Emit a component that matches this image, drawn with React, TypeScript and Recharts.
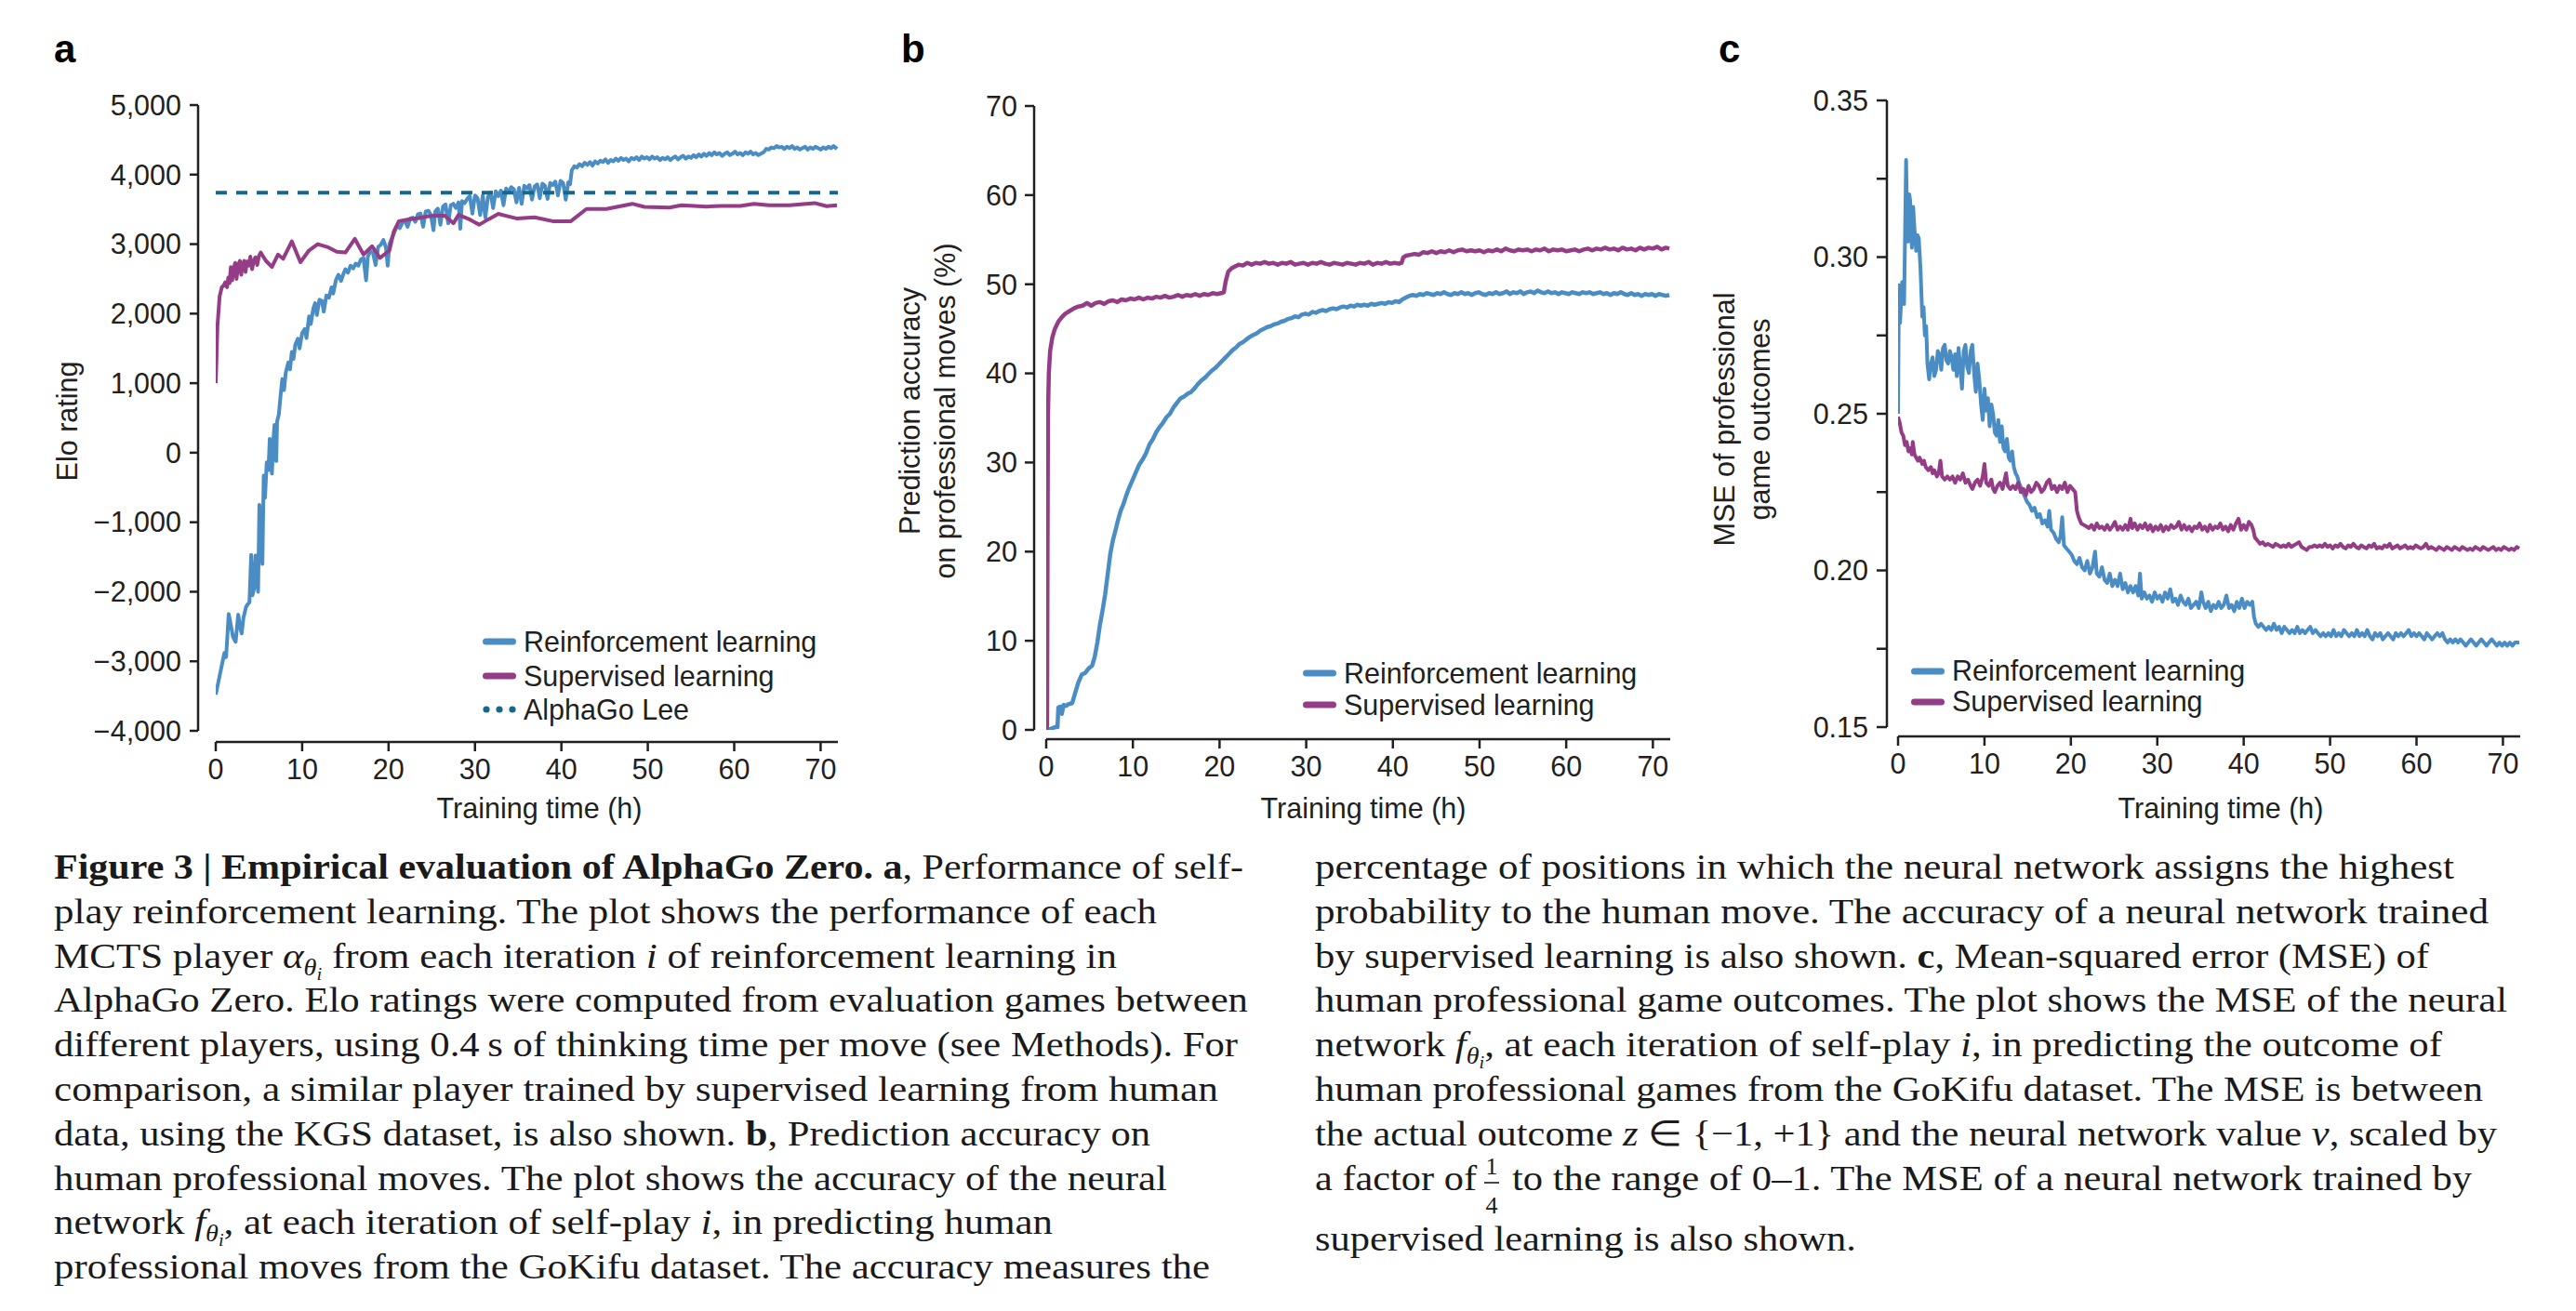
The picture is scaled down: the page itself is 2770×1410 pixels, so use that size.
import React from 'react';
import { LineChart, Line, XAxis, YAxis, Legend } from 'recharts';

// ---- axis ticks ----
const hourTicks = [0, 10, 20, 30, 40, 50, 60, 70];
const eloTicks = [-4000, -3000, -2000, -1000, 0, 1000, 2000, 3000, 4000, 5000];
const accuracyTicks = [0, 10, 20, 30, 40, 50, 60, 70];
const mseTicks = [0.15, 0.175, 0.2, 0.225, 0.25, 0.275, 0.3, 0.325, 0.35];

// ---- panel a: Elo rating, [hours, elo] ----
const alphaGoLeeElo = 3739;

const eloRl: [number, number][] = [
  [0, -3480], [0.5, -3180], [1, -2880], [1.2, -2940], [1.5, -2320], [1.7, -2450], [2, -2650], [2.3, -2720],
  [2.6, -2330], [2.8, -2500], [3, -2600], [3.2, -2380], [3.5, -2220], [3.7, -2180], [3.9, -2150], [4.1, -1470],
  [4.25, -2050], [4.45, -1950], [4.6, -1480], [4.75, -1520], [4.9, -2000], [5.05, -750], [5.2, -1250], [5.4, -1600],
  [5.55, -330], [5.7, -650], [5.9, -140], [6.1, -250], [6.25, 200], [6.5, -300], [6.65, 150], [6.8, 400],
  [7, -120], [7.1, 450], [7.3, 550], [7.5, 820], [7.7, 1060], [7.9, 900], [8.1, 1150], [8.4, 1300],
  [8.6, 1200], [8.8, 1450], [9, 1350], [9.2, 1550], [9.5, 1640], [9.7, 1500], [10, 1720], [10.3, 1780],
  [10.5, 1650], [10.8, 1960], [11, 1850], [11.3, 2080], [11.5, 2150], [11.7, 1980], [12, 2200], [12.3, 2180],
  [12.5, 2030], [12.8, 2260], [13.1, 2230], [13.4, 2380], [13.6, 2290], [13.9, 2480], [14.2, 2560], [14.5, 2470],
  [14.8, 2580], [15, 2640], [15.3, 2590], [15.6, 2690], [15.9, 2650], [16.2, 2720], [16.5, 2690], [16.8, 2780],
  [17.1, 2800], [17.4, 2480], [17.6, 2820], [17.9, 2900], [18.2, 2870], [18.5, 2700], [18.8, 2960], [19.1, 2990],
  [19.4, 3060], [19.7, 2950], [19.9, 2690], [20.1, 3000], [20.4, 3090], [20.7, 3180], [21, 3270], [21.3, 3230],
  [21.6, 3310], [21.9, 3340], [22.2, 3250], [22.5, 3370], [22.8, 3380], [23.1, 3320], [23.4, 3430], [23.7, 3440],
  [24, 3250], [24.3, 3470], [24.6, 3480], [24.9, 3420], [25.2, 3200], [25.4, 3470], [25.7, 3510], [26, 3280],
  [26.3, 3540], [26.6, 3570], [26.9, 3300], [27.2, 3560], [27.5, 3580], [27.8, 3520], [28.1, 3600], [28.3, 3220],
  [28.5, 3620], [28.8, 3590], [29.1, 3650], [29.4, 3690], [29.7, 3440], [30, 3700], [30.3, 3660], [30.6, 3420],
  [30.9, 3700], [31.2, 3380], [31.5, 3680], [31.8, 3740], [32.1, 3520], [32.4, 3760], [32.7, 3690], [33, 3770],
  [33.3, 3560], [33.6, 3800], [33.9, 3750], [34.2, 3820], [34.5, 3790], [34.8, 3600], [35.1, 3810], [35.4, 3580],
  [35.7, 3840], [36, 3800], [36.3, 3850], [36.6, 3640], [36.9, 3830], [37.2, 3860], [37.5, 3660], [37.8, 3870],
  [38.1, 3840], [38.4, 3650], [38.7, 3880], [39, 3850], [39.3, 3900], [39.6, 3700], [39.9, 3910], [40.2, 3880],
  [40.5, 3640], [40.8, 3890], [41, 3860], [41.2, 4060], [41.5, 4120], [41.8, 4100], [42.1, 4150], [42.4, 4120],
  [42.7, 4170], [43, 4140], [43.3, 4180], [43.6, 4130], [43.9, 4190], [44.2, 4160], [44.5, 4200], [44.8, 4180],
  [45.1, 4220], [45.4, 4170], [45.7, 4210], [46, 4190], [46.3, 4230], [46.6, 4200], [46.9, 4240], [47.2, 4210],
  [47.5, 4230], [47.8, 4190], [48.1, 4240], [48.4, 4220], [48.7, 4250], [49, 4210], [49.3, 4260], [49.6, 4230],
  [49.9, 4250], [50.2, 4220], [50.5, 4260], [50.8, 4230], [51.1, 4250], [51.4, 4210], [51.7, 4240], [52, 4220],
  [52.3, 4250], [52.6, 4210], [52.9, 4240], [53.2, 4260], [53.5, 4220], [53.8, 4250], [54.1, 4270], [54.4, 4230],
  [54.7, 4260], [55, 4240], [55.3, 4280], [55.6, 4250], [55.9, 4290], [56.2, 4260], [56.5, 4300], [56.8, 4270],
  [57.1, 4310], [57.4, 4280], [57.7, 4320], [58, 4290], [58.3, 4310], [58.6, 4270], [58.9, 4300], [59.2, 4320],
  [59.5, 4280], [59.8, 4300], [60.1, 4330], [60.4, 4290], [60.7, 4310], [61, 4280], [61.3, 4320], [61.6, 4300],
  [61.9, 4330], [62.2, 4290], [62.5, 4310], [62.8, 4280], [63.1, 4300], [63.4, 4320], [63.7, 4370], [64, 4360],
  [64.3, 4390], [64.6, 4380], [64.9, 4410], [65.2, 4390], [65.5, 4400], [65.8, 4370], [66.1, 4400], [66.4, 4380],
  [66.7, 4410], [67, 4370], [67.3, 4390], [67.6, 4360], [67.9, 4380], [68.2, 4400], [68.5, 4360], [68.8, 4390],
  [69.1, 4370], [69.4, 4400], [69.7, 4380], [70, 4360], [70.3, 4390], [70.6, 4370], [70.9, 4400], [71.2, 4380],
  [71.5, 4410], [71.9, 4370],
];

const eloSl: [number, number][] = [
  [0, 1000], [0.2, 1830], [0.45, 2250], [0.7, 2380], [0.9, 2400], [1.1, 2450], [1.3, 2380], [1.45, 2520],
  [1.6, 2440], [1.75, 2670], [1.9, 2480], [2.1, 2660], [2.25, 2730], [2.4, 2500], [2.6, 2700], [2.8, 2760],
  [2.95, 2560], [3.1, 2700], [3.3, 2760], [3.45, 2600], [3.6, 2750], [3.8, 2690], [4, 2820], [4.2, 2640],
  [4.4, 2760], [4.6, 2810], [4.8, 2700], [5, 2830], [5.2, 2880], [5.8, 2760], [6.5, 2670], [7.2, 2850],
  [7.8, 2790], [8.8, 3040], [9.8, 2740], [10.8, 2910], [11.8, 3000], [12.9, 2960], [14, 2890], [15, 2880],
  [16.1, 3075], [17.1, 2850], [18.1, 2970], [19, 2800], [20.1, 2910], [20.6, 3180], [21.2, 3330], [22.3, 3355],
  [23.5, 3375], [24.5, 3400], [25.4, 3410], [26.5, 3410], [27.5, 3300], [28.1, 3420], [29.3, 3360], [30.5, 3280],
  [31.6, 3360], [32.7, 3435], [33.8, 3400], [34.8, 3370], [36.9, 3385], [39, 3330], [41.1, 3330], [42.9, 3505],
  [45.2, 3505], [48.2, 3580], [49.6, 3535], [52.5, 3525], [53.9, 3560], [56.8, 3540], [58.5, 3550], [60.7, 3550],
  [62.3, 3580], [64, 3560], [66.4, 3560], [69.3, 3590], [70.7, 3545], [71.9, 3560],
];

// ---- panel b: prediction accuracy (%), [hours, %] ----
const accRl: [number, number][] = [
  [0, 0], [0.5, 0.1], [1, 0.3], [1.3, 0.3], [1.4, 2.5], [1.6, 2.6], [1.8, 1.8], [2, 2.8], [2.3, 2.7], [2.6, 2.9],
  [3, 3], [3.3, 4], [3.7, 5.3], [4.1, 6.2], [4.5, 6.4], [4.9, 6.9], [5.3, 7.2], [5.6, 8.2], [5.9, 9.8], [6.2, 11.8],
  [6.5, 13.4], [6.8, 15.2], [7.1, 17.5], [7.4, 19.8], [7.7, 21.3], [8, 22.4], [8.3, 23.6], [8.6, 24.6], [8.9, 25.3],
  [9.2, 26.2], [9.5, 27], [9.9, 27.9], [10.3, 28.8], [10.7, 29.7], [11.1, 30.3], [11.5, 31], [11.9, 32], [12.3, 32.6],
  [12.7, 33.4], [13.1, 34], [13.5, 34.5], [13.9, 35.1], [14.3, 35.5], [14.7, 36.2], [15.1, 36.7], [15.5, 37.2],
  [15.9, 37.4], [16.3, 37.7], [16.7, 37.9], [17.1, 38.3], [17.5, 38.8], [17.9, 39.2], [18.3, 39.5], [18.7, 39.9],
  [19.1, 40.3], [19.5, 40.6], [19.9, 41], [20.3, 41.4], [20.7, 41.8], [21.1, 42.2], [21.5, 42.6], [21.9, 42.9],
  [22.3, 43.3], [22.7, 43.5], [23.1, 43.8], [23.5, 44.1], [23.9, 44.3], [24.3, 44.5], [24.7, 44.8], [25.1, 45],
  [25.5, 45.2], [25.9, 45.3], [26.3, 45.5], [26.7, 45.6], [27.1, 45.8], [27.5, 45.9], [27.9, 46.1], [28.3, 46.2],
  [28.7, 46.4], [29.1, 46.3], [29.5, 46.6], [29.9, 46.7], [30.3, 46.6], [30.7, 46.9], [31.1, 46.8], [31.5, 47],
  [31.9, 47.1], [32.3, 47], [32.7, 47.2], [33.1, 47.3], [33.5, 47.2], [33.9, 47.4], [34.3, 47.5], [34.7, 47.4],
  [35.1, 47.6], [35.5, 47.5], [35.9, 47.7], [36.3, 47.6], [36.7, 47.7], [37.1, 47.6], [37.5, 47.8], [37.9, 47.7],
  [38.3, 47.8], [38.7, 47.9], [39.1, 47.8], [39.5, 48], [39.9, 47.9], [40.3, 48.1], [40.7, 48], [41.1, 48.3],
  [41.5, 48.5], [41.9, 48.7], [42.3, 48.8], [42.7, 48.7], [43.1, 48.9], [43.5, 48.8], [43.9, 49], [44.3, 48.9],
  [44.7, 48.8], [45.1, 49], [45.5, 48.9], [45.9, 49.1], [46.3, 48.9], [46.7, 48.8], [47.1, 49], [47.5, 48.9],
  [47.9, 49.1], [48.3, 48.9], [48.7, 49], [49.1, 48.8], [49.5, 49], [49.9, 49.1], [50.3, 48.9], [50.7, 48.8],
  [51.1, 49], [51.5, 48.9], [51.9, 49.1], [52.3, 48.9], [52.7, 49], [53.1, 49.2], [53.5, 48.9], [53.9, 49.1],
  [54.3, 49], [54.7, 49.2], [55.1, 48.9], [55.5, 49.1], [55.9, 49.2], [56.3, 49], [56.7, 49.3], [57.1, 49.1],
  [57.5, 49], [57.9, 49.2], [58.3, 49], [58.7, 49.1], [59.1, 48.9], [59.5, 49.1], [59.9, 49], [60.3, 48.9],
  [60.7, 49.1], [61.1, 49], [61.5, 48.9], [61.9, 49.1], [62.3, 49], [62.7, 49.1], [63.1, 48.9], [63.5, 49],
  [63.9, 49.1], [64.3, 48.9], [64.7, 49], [65.1, 48.8], [65.5, 49], [65.9, 48.9], [66.3, 49.1], [66.7, 48.9],
  [67.1, 48.8], [67.5, 49], [67.9, 48.8], [68.3, 48.9], [68.7, 48.7], [69.1, 48.9], [69.5, 48.8], [69.9, 48.9],
  [70.3, 48.7], [70.7, 48.9], [71.1, 48.8], [71.5, 48.7], [71.9, 48.8],
];

const accSl: [number, number][] = [
  [0, 0], [0.1, 0.5], [0.15, 20], [0.2, 35], [0.3, 40], [0.45, 42.5], [0.7, 44], [1, 45], [1.4, 45.8], [1.8, 46.3],
  [2.2, 46.7], [2.7, 47], [3.2, 47.3], [3.7, 47.5], [4.2, 47.6], [4.7, 47.9], [5.2, 47.6], [5.7, 47.9], [6.2, 48],
  [6.7, 47.8], [7.2, 48.1], [7.7, 48.2], [8.2, 48], [8.7, 48.3], [9.2, 48.2], [9.7, 48.4], [10.2, 48.3], [10.7, 48.5],
  [11.2, 48.3], [11.7, 48.5], [12.2, 48.4], [12.7, 48.6], [13.2, 48.5], [13.7, 48.7], [14.2, 48.5], [14.7, 48.6],
  [15.2, 48.8], [15.7, 48.6], [16.2, 48.8], [16.7, 48.7], [17.2, 48.9], [17.7, 48.7], [18.2, 48.9], [18.7, 48.8],
  [19.2, 49], [19.7, 48.9], [20.2, 49], [20.5, 49.1], [20.7, 50.3], [21, 51.4], [21.4, 51.8], [21.8, 52], [22.2, 52.2],
  [22.7, 52.1], [23.2, 52.4], [23.7, 52.2], [24.2, 52.4], [24.7, 52.3], [25.2, 52.5], [25.7, 52.3], [26.2, 52.4],
  [26.7, 52.2], [27.2, 52.4], [27.7, 52.3], [28.2, 52.5], [28.7, 52.2], [29.2, 52.3], [29.7, 52.4], [30.2, 52.2],
  [30.7, 52.4], [31.2, 52.3], [31.7, 52.5], [32.2, 52.3], [32.7, 52.2], [33.2, 52.4], [33.7, 52.3], [34.2, 52.2],
  [34.7, 52.4], [35.2, 52.3], [35.7, 52.2], [36.2, 52.4], [36.7, 52.3], [37.2, 52.5], [37.7, 52.2], [38.2, 52.4],
  [38.7, 52.3], [39.2, 52.5], [39.7, 52.3], [40.2, 52.4], [40.7, 52.3], [41, 52.4], [41.2, 53], [41.5, 53.2],
  [42, 53.3], [42.5, 53.4], [43, 53.3], [43.5, 53.6], [44, 53.5], [44.5, 53.7], [45, 53.5], [45.5, 53.7], [46, 53.6],
  [46.5, 53.8], [47, 53.6], [47.5, 53.8], [48, 53.9], [48.5, 53.7], [49, 53.8], [49.5, 53.7], [50, 53.8], [50.5, 53.6],
  [51, 53.8], [51.5, 53.7], [52, 53.9], [52.5, 53.7], [53, 54], [53.5, 53.8], [54, 53.7], [54.5, 53.9], [55, 53.8],
  [55.5, 53.9], [56, 53.7], [56.5, 53.9], [57, 53.8], [57.5, 54], [58, 53.7], [58.5, 53.9], [59, 53.8], [59.5, 53.9],
  [60, 53.7], [60.5, 53.8], [61, 53.9], [61.5, 53.7], [62, 53.9], [62.5, 54], [63, 53.8], [63.5, 54], [64, 53.9],
  [64.5, 54.1], [65, 53.9], [65.5, 54], [66, 53.8], [66.5, 54.1], [67, 53.9], [67.5, 54], [68, 53.8], [68.5, 54.1],
  [69, 53.9], [69.5, 54.1], [70, 54], [70.5, 54.2], [71, 53.9], [71.5, 54.1], [71.9, 54],
];

// ---- panel c: MSE of game outcomes, [hours, mse] ----
const mseRl: [number, number][] = [
  [0, 0.25], [0.1, 0.291], [0.23, 0.279], [0.47, 0.292], [0.7, 0.285], [0.93, 0.331], [1.05, 0.312], [1.17, 0.305],
  [1.3, 0.32], [1.4, 0.318], [1.6, 0.303], [1.75, 0.316], [1.9, 0.309], [2.1, 0.302], [2.25, 0.307], [2.4, 0.306],
  [2.6, 0.296], [2.8, 0.281], [2.95, 0.284], [3.1, 0.275], [3.25, 0.278], [3.4, 0.266], [3.6, 0.261], [3.8, 0.266],
  [4, 0.268], [4.2, 0.262], [4.4, 0.264], [4.6, 0.27], [4.8, 0.269], [5, 0.264], [5.2, 0.271], [5.4, 0.272],
  [5.6, 0.267], [5.8, 0.266], [6, 0.27], [6.2, 0.268], [6.4, 0.264], [6.6, 0.269], [6.8, 0.262], [7, 0.271],
  [7.2, 0.265], [7.4, 0.258], [7.6, 0.27], [7.8, 0.272], [8, 0.265], [8.2, 0.263], [8.4, 0.27], [8.6, 0.272],
  [8.8, 0.263], [9, 0.257], [9.2, 0.266], [9.4, 0.261], [9.6, 0.253], [9.8, 0.248], [10, 0.258], [10.2, 0.251],
  [10.4, 0.255], [10.6, 0.246], [10.8, 0.253], [11, 0.25], [11.2, 0.244], [11.4, 0.243], [11.6, 0.248], [11.8, 0.241],
  [12, 0.246], [12.2, 0.239], [12.4, 0.238], [12.6, 0.242], [12.8, 0.236], [13, 0.235], [13.2, 0.238], [13.4, 0.233],
  [13.6, 0.231], [13.8, 0.23], [14, 0.228], [14.3, 0.226], [14.6, 0.224], [14.9, 0.222], [15.2, 0.221], [15.5, 0.219],
  [15.8, 0.22], [16.1, 0.217], [16.4, 0.218], [16.7, 0.215], [17, 0.216], [17.3, 0.214], [17.5, 0.219], [17.7, 0.213],
  [18, 0.212], [18.3, 0.21], [18.6, 0.209], [18.8, 0.211], [19, 0.217], [19.2, 0.208], [19.5, 0.207], [19.8, 0.206],
  [20.1, 0.205], [20.4, 0.203], [20.7, 0.202], [21, 0.204], [21.3, 0.201], [21.6, 0.2], [21.9, 0.203], [22.2, 0.199],
  [22.5, 0.201], [22.8, 0.206], [23, 0.199], [23.3, 0.198], [23.6, 0.201], [23.9, 0.197], [24.2, 0.196], [24.5, 0.199],
  [24.8, 0.195], [25.1, 0.197], [25.4, 0.195], [25.7, 0.199], [26, 0.194], [26.3, 0.196], [26.6, 0.193], [26.9, 0.195],
  [27.2, 0.193], [27.5, 0.195], [27.8, 0.192], [28, 0.199], [28.2, 0.191], [28.5, 0.193], [28.8, 0.191], [29.1, 0.192],
  [29.4, 0.19], [29.7, 0.193], [30, 0.191], [30.3, 0.192], [30.6, 0.19], [30.9, 0.193], [31.2, 0.191], [31.5, 0.194],
  [31.8, 0.19], [32.1, 0.191], [32.4, 0.189], [32.7, 0.192], [33, 0.19], [33.3, 0.189], [33.6, 0.191], [33.9, 0.188],
  [34.2, 0.189], [34.5, 0.19], [34.8, 0.188], [35.1, 0.193], [35.3, 0.19], [35.6, 0.188], [35.9, 0.19], [36.2, 0.187],
  [36.5, 0.189], [36.8, 0.188], [37.1, 0.19], [37.4, 0.188], [37.7, 0.189], [38, 0.192], [38.3, 0.188], [38.6, 0.189],
  [38.9, 0.187], [39.2, 0.19], [39.5, 0.188], [39.8, 0.191], [40.1, 0.188], [40.4, 0.19], [40.7, 0.189], [41, 0.19],
  [41.2, 0.185], [41.4, 0.183], [41.7, 0.182], [42, 0.183], [42.3, 0.182], [42.6, 0.181], [42.9, 0.182], [43.2, 0.181],
  [43.5, 0.183], [43.8, 0.181], [44.1, 0.182], [44.4, 0.18], [44.7, 0.182], [45, 0.181], [45.3, 0.18], [45.6, 0.181],
  [45.9, 0.18], [46.2, 0.182], [46.5, 0.18], [46.8, 0.181], [47.1, 0.18], [47.4, 0.181], [47.7, 0.182], [48, 0.18],
  [48.3, 0.181], [48.6, 0.18], [48.9, 0.179], [49.2, 0.18], [49.5, 0.179], [49.8, 0.18], [50.1, 0.179], [50.4, 0.181],
  [50.7, 0.179], [51, 0.18], [51.3, 0.179], [51.6, 0.181], [51.9, 0.18], [52.2, 0.179], [52.5, 0.18], [52.8, 0.179],
  [53.1, 0.181], [53.4, 0.179], [53.7, 0.18], [54, 0.179], [54.3, 0.181], [54.6, 0.179], [54.9, 0.178], [55.2, 0.18],
  [55.5, 0.179], [55.8, 0.18], [56.1, 0.178], [56.4, 0.179], [56.7, 0.18], [57, 0.179], [57.3, 0.178], [57.6, 0.18],
  [57.9, 0.179], [58.2, 0.18], [58.5, 0.179], [58.8, 0.18], [59.1, 0.181], [59.4, 0.179], [59.7, 0.18], [60, 0.179],
  [60.3, 0.18], [60.6, 0.179], [60.9, 0.178], [61.2, 0.18], [61.5, 0.179], [61.8, 0.178], [62.1, 0.179], [62.4, 0.18],
  [62.7, 0.179], [63, 0.18], [63.3, 0.178], [63.6, 0.177], [63.9, 0.178], [64.2, 0.177], [64.5, 0.178], [64.8, 0.177],
  [65.1, 0.178], [65.4, 0.177], [65.7, 0.176], [66, 0.177], [66.3, 0.178], [66.6, 0.177], [66.9, 0.176], [67.2, 0.177],
  [67.5, 0.178], [67.8, 0.177], [68.1, 0.176], [68.4, 0.177], [68.7, 0.178], [69, 0.177], [69.3, 0.176], [69.6, 0.177],
  [69.9, 0.176], [70.2, 0.177], [70.5, 0.176], [70.8, 0.177], [71.1, 0.176], [71.4, 0.177], [71.9, 0.177],
];

const mseSl: [number, number][] = [
  [0, 0.249], [0.2, 0.247], [0.4, 0.244], [0.6, 0.243], [0.8, 0.24], [1, 0.241], [1.2, 0.238], [1.4, 0.239],
  [1.6, 0.237], [1.7, 0.241], [1.9, 0.237], [2.1, 0.236], [2.3, 0.235], [2.5, 0.236], [2.8, 0.234], [3, 0.235],
  [3.2, 0.233], [3.5, 0.232], [3.8, 0.233], [4, 0.231], [4.2, 0.232], [4.5, 0.23], [4.7, 0.231], [4.9, 0.235],
  [5.1, 0.23], [5.4, 0.229], [5.7, 0.23], [6, 0.229], [6.3, 0.23], [6.6, 0.228], [6.9, 0.23], [7.2, 0.229],
  [7.5, 0.231], [7.8, 0.228], [8.1, 0.229], [8.4, 0.227], [8.6, 0.226], [8.9, 0.228], [9.2, 0.229], [9.5, 0.227],
  [9.8, 0.23], [10, 0.234], [10.2, 0.228], [10.5, 0.227], [10.8, 0.229], [11, 0.226], [11.2, 0.225], [11.5, 0.227],
  [11.8, 0.228], [12.1, 0.226], [12.5, 0.231], [12.7, 0.227], [13, 0.226], [13.3, 0.227], [13.6, 0.226], [13.9, 0.228],
  [14.2, 0.225], [14.5, 0.226], [14.8, 0.224], [15.1, 0.227], [15.4, 0.225], [15.7, 0.226], [16, 0.228], [16.3, 0.227],
  [16.6, 0.225], [16.9, 0.226], [17.2, 0.228], [17.5, 0.229], [17.8, 0.226], [18.1, 0.227], [18.4, 0.225], [18.7, 0.227],
  [19, 0.226], [19.3, 0.228], [19.6, 0.225], [19.9, 0.227], [20.2, 0.226], [20.5, 0.225], [20.7, 0.219], [20.9, 0.217],
  [21.2, 0.215], [21.5, 0.2145], [21.8, 0.214], [22.1, 0.2135], [22.4, 0.2145], [22.7, 0.213], [23, 0.215], [23.3, 0.2135],
  [23.6, 0.214], [23.9, 0.213], [24.2, 0.2145], [24.5, 0.213], [24.8, 0.214], [25.1, 0.2155], [25.4, 0.213], [25.7, 0.214],
  [26, 0.213], [26.3, 0.2145], [26.6, 0.213], [26.9, 0.2165], [27.1, 0.2135], [27.4, 0.215], [27.7, 0.213], [28, 0.2145],
  [28.3, 0.2135], [28.6, 0.215], [28.9, 0.213], [29.2, 0.2145], [29.5, 0.2125], [29.8, 0.214], [30.1, 0.213], [30.4, 0.2145],
  [30.7, 0.2125], [31, 0.214], [31.3, 0.213], [31.6, 0.2145], [31.9, 0.2135], [32.2, 0.214], [32.5, 0.2155], [32.8, 0.213],
  [33.1, 0.2145], [33.4, 0.213], [33.7, 0.214], [34, 0.2125], [34.3, 0.214], [34.6, 0.2135], [34.9, 0.215], [35.2, 0.213],
  [35.5, 0.214], [35.8, 0.2125], [36.1, 0.2145], [36.4, 0.213], [36.7, 0.214], [37, 0.2135], [37.3, 0.215], [37.6, 0.213],
  [37.9, 0.214], [38.2, 0.2125], [38.5, 0.2145], [38.8, 0.213], [39.1, 0.215], [39.4, 0.2165], [39.7, 0.213], [40, 0.2145],
  [40.3, 0.213], [40.6, 0.2155], [40.9, 0.2145], [41.1, 0.213], [41.3, 0.2105], [41.6, 0.2095], [41.9, 0.2085], [42.2, 0.209],
  [42.5, 0.208], [42.8, 0.2085], [43.1, 0.208], [43.4, 0.2075], [43.7, 0.2085], [44, 0.208], [44.3, 0.2075], [44.6, 0.208],
  [44.9, 0.2075], [45.2, 0.2085], [45.5, 0.2075], [45.8, 0.208], [46.1, 0.2085], [46.4, 0.209], [46.7, 0.2075], [47, 0.207],
  [47.3, 0.2065], [47.6, 0.2075], [47.9, 0.2075], [48.2, 0.208], [48.5, 0.2075], [48.8, 0.208], [49.1, 0.2075], [49.4, 0.2085],
  [49.7, 0.2075], [50, 0.208], [50.3, 0.207], [50.6, 0.208], [50.9, 0.2075], [51.2, 0.2085], [51.5, 0.2075], [51.8, 0.207],
  [52.1, 0.208], [52.4, 0.2075], [52.7, 0.2085], [53, 0.2075], [53.3, 0.207], [53.6, 0.208], [53.9, 0.2075], [54.2, 0.207],
  [54.5, 0.208], [54.8, 0.2075], [55.1, 0.2085], [55.4, 0.207], [55.7, 0.2075], [56, 0.207], [56.3, 0.208], [56.6, 0.2075],
  [56.9, 0.2085], [57.2, 0.207], [57.5, 0.2075], [57.8, 0.208], [58.1, 0.207], [58.4, 0.2075], [58.7, 0.208], [59, 0.207],
  [59.3, 0.2075], [59.6, 0.207], [59.9, 0.208], [60.2, 0.2075], [60.5, 0.207], [60.8, 0.2075], [61.1, 0.2085], [61.4, 0.207],
  [61.7, 0.2075], [62, 0.207], [62.3, 0.2065], [62.6, 0.2075], [62.9, 0.207], [63.2, 0.2065], [63.5, 0.2075], [63.8, 0.207],
  [64.1, 0.2065], [64.4, 0.2075], [64.7, 0.207], [65, 0.2065], [65.3, 0.2075], [65.6, 0.207], [65.9, 0.2065], [66.2, 0.207],
  [66.5, 0.2065], [66.8, 0.2075], [67.1, 0.207], [67.4, 0.2065], [67.7, 0.2075], [68, 0.207], [68.3, 0.2065], [68.6, 0.207],
  [68.9, 0.2075], [69.2, 0.2065], [69.5, 0.207], [69.8, 0.2065], [70.1, 0.2075], [70.4, 0.207], [70.7, 0.2065], [71, 0.207],
  [71.3, 0.2065], [71.6, 0.2075], [71.9, 0.207],
];

// ---- styling ----
const SANS = '"Liberation Sans", Arial, Helvetica, sans-serif';
const SERIF = '"Liberation Serif", "Times New Roman", serif';
const INK = '#231f20';
const BLUE = '#4a8dc5';
const PURPLE = '#953c86';
const TEAL = '#17678c';
const FS = 30.5;

const toPoints = (rows: [number, number][]) => rows.map(([t, v]) => ({ t, v }));

const fmtElo = (v: number) => (v < 0 ? '\u2212' : '') + Math.abs(v).toLocaleString('en-US');
const fmtPlain = (v: number) => String(v);
const fmtMse = (v: number) => (Math.round(v * 1000) % 50 === 0 ? v.toFixed(2) : '');

const legendOrder = ['Reinforcement learning', 'Supervised learning', 'AlphaGo Lee'];

type SeriesDef = {
  name: string;
  data: { t: number; v: number }[];
  color: string;
  width: number;
  dash?: string;
  dots?: boolean;
};

function makeLegend(row: number) {
  return (props: any) => {
    const items = [...(props.payload || [])].sort(
      (a: any, b: any) => legendOrder.indexOf(a.value) - legendOrder.indexOf(b.value),
    );
    return (
      <div>
        {items.map((item: any) => (
          <div key={item.value} style={{ display: 'flex', alignItems: 'center', height: row }}>
            <svg width={36} height={12} style={{ marginRight: 8, flex: 'none' }}>
              {item.type === 'circle' ? (
                [4, 18, 32].map((cx) => <circle key={cx} cx={cx} cy={6} r={3.6} fill={item.color} />)
              ) : (
                <line x1={3.5} y1={6} x2={32.5} y2={6} stroke={item.color} strokeWidth={7} strokeLinecap="round" />
              )}
            </svg>
            <span style={{ fontSize: FS, color: INK, lineHeight: `${row}px`, whiteSpace: 'nowrap' }}>{item.value}</span>
          </div>
        ))}
      </div>
    );
  };
}

type PanelProps = {
  left: number;
  top: number;
  width: number;
  height: number;
  yWidth: number;
  gapLeft: number;
  gapBottom: number;
  yDomain: [number, number];
  yTicks: number[];
  yFormat: (v: number) => string;
  yTickSize: number;
  yTickMargin: number;
  series: SeriesDef[];
  legendLeft: number;
  legendTop: number;
  legendRow: number;
};

function Panel(p: PanelProps) {
  const axisStroke = { stroke: INK, strokeWidth: 2.5 };
  const tickStyle = { fill: INK, fontSize: FS, fontFamily: SANS };
  return (
    <div style={{ position: 'absolute', left: p.left, top: p.top }}>
      <LineChart width={p.width} height={p.height} margin={{ top: 20, right: 12, bottom: 0, left: 0 }}>
        {/* spacer axes give the detached spines */}
        <XAxis xAxisId="gap" type="number" domain={[0, 1]} height={p.gapBottom} axisLine={false} tickLine={false} tick={false} />
        <XAxis
          xAxisId="t"
          type="number"
          dataKey="t"
          domain={[0, 72]}
          ticks={hourTicks}
          interval={0}
          allowDataOverflow
          height={50}
          axisLine={axisStroke}
          tickLine={axisStroke}
          tickSize={10}
          tickMargin={8}
          tick={tickStyle}
        />
        <YAxis yAxisId="gap" type="number" domain={[0, 1]} width={p.gapLeft} axisLine={false} tickLine={false} tick={false} />
        <YAxis
          yAxisId="v"
          type="number"
          domain={p.yDomain}
          ticks={p.yTicks}
          interval={0}
          allowDataOverflow
          width={p.yWidth}
          axisLine={axisStroke}
          tickLine={axisStroke}
          tickSize={p.yTickSize}
          tickMargin={p.yTickMargin}
          tick={tickStyle}
          tickFormatter={p.yFormat}
        />
        {p.series.map((s) => (
          <Line
            key={s.name}
            name={s.name}
            data={s.data}
            dataKey="v"
            xAxisId="t"
            yAxisId="v"
            type="linear"
            stroke={s.color}
            strokeWidth={s.width}
            strokeDasharray={s.dash}
            strokeLinejoin="round"
            dot={false}
            activeDot={false}
            legendType={s.dots ? 'circle' : 'line'}
            isAnimationActive={false}
          />
        ))}
        <Legend
          layout="horizontal"
          verticalAlign="middle"
          align="center"
          content={makeLegend(p.legendRow)}
          wrapperStyle={{ left: p.legendLeft, top: p.legendTop, width: 'auto' }}
        />
      </LineChart>
    </div>
  );
}

const capL = 58;
const capR = 1414;
const capY = (i: number) => 945 + 47.8 * i;

function CapLine({ x, y, w, children }: { x: number; y: number; w: number; children: React.ReactNode }) {
  return (
    <text x={x} y={y} textLength={w} lengthAdjust="spacingAndGlyphs">
      {children}
    </text>
  );
}

function Sub({ base }: { base: string }) {
  return (
    <>
      <tspan fontStyle="italic">{base}</tspan>
      <tspan fontStyle="italic" fontSize={25} dy={8}>θ</tspan>
      <tspan fontStyle="italic" fontSize={18} dy={5}>i</tspan>
    </>
  );
}

export default function App() {
  const eloSeries: SeriesDef[] = [
    { name: 'Reinforcement learning', data: toPoints(eloRl), color: BLUE, width: 4 },
    { name: 'Supervised learning', data: toPoints(eloSl), color: PURPLE, width: 4 },
    {
      name: 'AlphaGo Lee',
      data: [{ t: 0, v: alphaGoLeeElo }, { t: 72, v: alphaGoLeeElo }],
      color: TEAL,
      width: 4,
      dash: '12 10',
      dots: true,
    },
  ];
  const accSeries: SeriesDef[] = [
    { name: 'Reinforcement learning', data: toPoints(accRl), color: BLUE, width: 4.5 },
    { name: 'Supervised learning', data: toPoints(accSl), color: PURPLE, width: 4.5 },
  ];
  const mseSeries: SeriesDef[] = [
    { name: 'Reinforcement learning', data: toPoints(mseRl), color: BLUE, width: 4 },
    { name: 'Supervised learning', data: toPoints(mseSl), color: PURPLE, width: 4 },
  ];

  return (
    <div
      style={{
        position: 'absolute',
        left: 0,
        top: 0,
        width: 2770,
        height: 1410,
        background: '#fff',
        fontFamily: SANS,
        color: INK,
        overflow: 'hidden',
      }}
    >
      <Panel
        left={83} top={93} width={830} height={755}
        yWidth={130} gapLeft={19} gapBottom={12}
        yDomain={[-4000, 5000]} yTicks={eloTicks} yFormat={fmtElo}
        yTickSize={9} yTickMargin={9}
        series={eloSeries}
        legendLeft={436} legendTop={579} legendRow={36.5}
      />
      <Panel
        left={1012} top={94} width={796} height={751}
        yWidth={100} gapLeft={13} gapBottom={10}
        yDomain={[0, 70]} yTicks={accuracyTicks} yFormat={fmtPlain}
        yTickSize={10} yTickMargin={8}
        series={accSeries}
        legendLeft={389} legendTop={613} legendRow={34}
      />
      <Panel
        left={1919} top={88} width={803} height={754}
        yWidth={110} gapLeft={12} gapBottom={10}
        yDomain={[0.15, 0.35]} yTicks={mseTicks} yFormat={fmtMse}
        yTickSize={11} yTickMargin={9}
        series={mseSeries}
        legendLeft={136} legendTop={617} legendRow={33}
      />

      <svg
        width={2770}
        height={1410}
        style={{ position: 'absolute', left: 0, top: 0, pointerEvents: 'none' }}
      >
        {/* panel letters */}
        <g fontFamily={SANS} fontWeight="bold" fontSize={42} fill="#000">
          <text x={58} y={67}>a</text>
          <text x={969} y={67}>b</text>
          <text x={1848} y={67}>c</text>
        </g>

        {/* axis titles */}
        <g fontFamily={SANS} fontSize={FS} fill={INK} textAnchor="middle">
          <text x={580} y={880}>Training time (h)</text>
          <text x={1466} y={880}>Training time (h)</text>
          <text x={2388} y={880}>Training time (h)</text>
          <text transform="translate(83,453) rotate(-90)">Elo rating</text>
          <text transform="translate(989,442) rotate(-90)">Prediction accuracy</text>
          <text transform="translate(1027,442) rotate(-90)">on professional moves (%)</text>
          <text transform="translate(1865,451) rotate(-90)">MSE of professional</text>
          <text transform="translate(1903,451) rotate(-90)">game outcomes</text>
        </g>

        {/* caption */}
        <g fontFamily={SERIF} fontSize={38} fill="#1a1a1a">
          <CapLine x={capL} y={capY(0)} w={1279}>
            <tspan fontWeight="bold">Figure 3 | Empirical evaluation of AlphaGo Zero. a</tspan>, Performance of self-
          </CapLine>
          <CapLine x={capL} y={capY(1)} w={1186}>
            play reinforcement learning. The plot shows the performance of each
          </CapLine>
          <CapLine x={capL} y={capY(2)} w={1143}>
            MCTS player <Sub base="α" />
            <tspan dy={-13}> from each iteration </tspan>
            <tspan fontStyle="italic">i</tspan> of reinforcement learning in
          </CapLine>
          <CapLine x={capL} y={capY(3)} w={1284}>
            AlphaGo Zero. Elo ratings were computed from evaluation games between
          </CapLine>
          <CapLine x={capL} y={capY(4)} w={1273}>
            different players, using 0.4{'\u2009'}s of thinking time per move (see Methods). For
          </CapLine>
          <CapLine x={capL} y={capY(5)} w={1252}>
            comparison, a similar player trained by supervised learning from human
          </CapLine>
          <CapLine x={capL} y={capY(6)} w={1179}>
            data, using the KGS dataset, is also shown. <tspan fontWeight="bold">b</tspan>, Prediction accuracy on
          </CapLine>
          <CapLine x={capL} y={capY(7)} w={1197}>
            human professional moves. The plot shows the accuracy of the neural
          </CapLine>
          <CapLine x={capL} y={capY(8)} w={1074}>
            network <Sub base="f" />
            <tspan dy={-13}>, at each iteration of self-play </tspan>
            <tspan fontStyle="italic">i</tspan>, in predicting human
          </CapLine>
          <CapLine x={capL} y={capY(9)} w={1243}>
            professional moves from the GoKifu dataset. The accuracy measures the
          </CapLine>

          <CapLine x={capR} y={capY(0)} w={1225}>
            percentage of positions in which the neural network assigns the highest
          </CapLine>
          <CapLine x={capR} y={capY(1)} w={1262}>
            probability to the human move. The accuracy of a neural network trained
          </CapLine>
          <CapLine x={capR} y={capY(2)} w={1198}>
            by supervised learning is also shown. <tspan fontWeight="bold">c</tspan>, Mean-squared error (MSE) of
          </CapLine>
          <CapLine x={capR} y={capY(3)} w={1282}>
            human professional game outcomes. The plot shows the MSE of the neural
          </CapLine>
          <CapLine x={capR} y={capY(4)} w={1212}>
            network <Sub base="f" />
            <tspan dy={-13}>, at each iteration of self-play </tspan>
            <tspan fontStyle="italic">i</tspan>, in predicting the outcome of
          </CapLine>
          <CapLine x={capR} y={capY(5)} w={1256}>
            human professional games from the GoKifu dataset. The MSE is between
          </CapLine>
          <CapLine x={capR} y={capY(6)} w={1271}>
            the actual outcome <tspan fontStyle="italic">z</tspan> ∈ {'{'}−1, +1{'}'} and the neural network value{' '}
            <tspan fontStyle="italic">v</tspan>, scaled by
          </CapLine>
          <CapLine x={capR} y={capY(7)} w={174}>
            a factor of
          </CapLine>
          <text x={1604} y={1263} fontSize={26} textAnchor="middle">1</text>
          <line x1={1596} y1={1272} x2={1612} y2={1272} stroke="#1a1a1a" strokeWidth={1.6} />
          <text x={1604} y={1305} fontSize={26} textAnchor="middle">4</text>
          <CapLine x={1626} y={capY(7)} w={1032}>
            to the range of 0–1. The MSE of a neural network trained by
          </CapLine>
          <CapLine x={capR} y={1345} w={582}>
            supervised learning is also shown.
          </CapLine>
        </g>
      </svg>
    </div>
  );
}
